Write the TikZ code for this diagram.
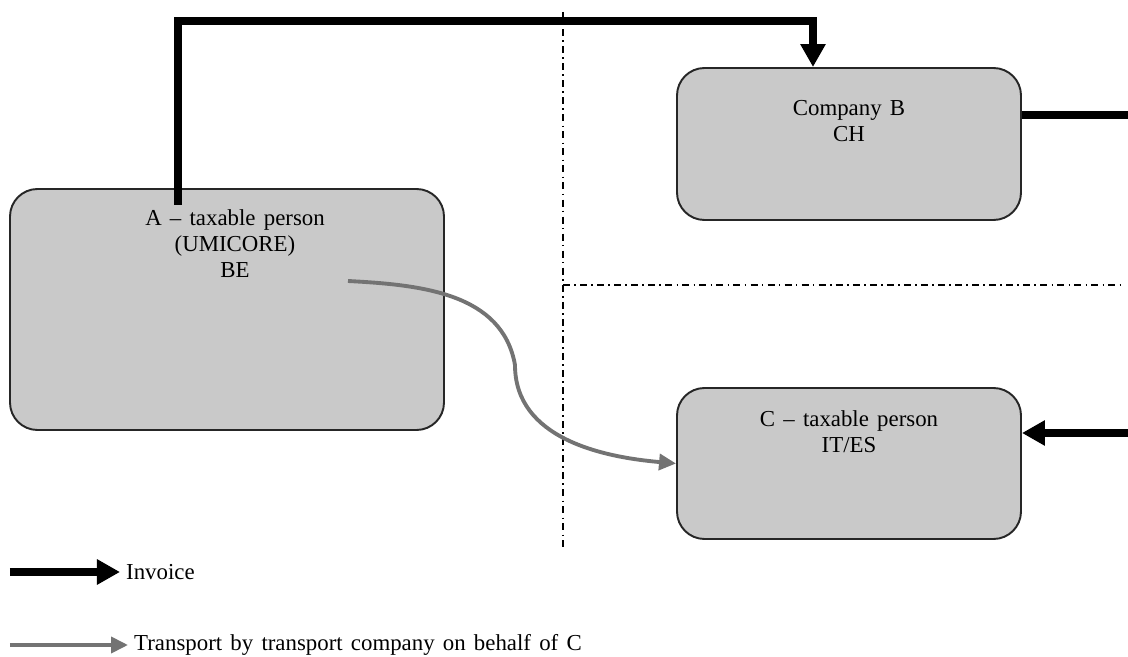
\documentclass[tikz,border=0pt]{standalone}
\usepackage{fontspec}
\setmainfont{Liberation Serif}
\usetikzlibrary{arrows.meta,positioning}
\newcommand\partyfont{\fontsize{13}{14.8}\selectfont\spaceskip 0.36em plus 0.1em\relax}
\tikzset{
  party/.style={draw=black!85, line width=1.1pt, fill=black!21, rounded corners=0.55cm},
  lbl/.style={align=center, font=\partyfont},
  invoice/.style={line width=4.4pt, -{Triangle[length=0.46cm,width=0.48cm]}},
  transport/.style={line width=2.2pt, black!55, -{Triangle[length=0.34cm,width=0.32cm]}},
  border/.style={line width=1.3pt, dash pattern=on 4pt off 2.4pt on 0.9pt off 2.4pt}
}
\begin{document}
\begin{tikzpicture}
\useasboundingbox (0,0) rectangle (22.56,-13.14);
% the three parties
\node[party, minimum width=8.68cm, minimum height=4.82cm] (a) at (4.54,-6.19) {};
\node[party, minimum width=6.88cm, minimum height=3.04cm] (b) at (16.98,-2.88) {};
\node[party, minimum width=6.88cm, minimum height=3.02cm] (c) at (16.98,-9.27) {};
\node[lbl, below=0.3cm of a.north, xshift=0.16cm] (atext) {A -- taxable person\\(UMICORE)\\BE};
\node[lbl, below=0.55cm of b.north] (btext) {Company B\\CH};
\node[lbl, below=0.35cm of c.north] (ctext) {C -- taxable person\\IT/ES};
% borders
\coordinate (vtop) at (11.26,-0.24);
\coordinate (vbot) at (11.26,-11.0);
\coordinate (corner) at (11.26,-5.7);
\coordinate (hend) at (22.4,-5.7);
\draw[border] (vtop) -- (vbot);
\draw[border] (corner) -- (hend);
% invoices
\coordinate (astart) at (3.56,-4.1);
\coordinate (topleft) at (3.56,-0.42);
\coordinate (bin) at ([xshift=-0.72cm]b.north);
\draw[invoice] (astart) -- (topleft) -| (bin);
\coordinate (bout) at (22.56,-2.3);
\draw[line width=4.4pt] (b.east |- bout) -- (bout);
\coordinate (cin) at (22.56,-8.66);
\draw[invoice] (cin) -- (c.east |- cin);
% transport
\coordinate (tstart) at (6.96,-5.62);
\coordinate (tmid) at (10.3,-7.3);
\draw[transport] (tstart) to[out=-3,in=100] (tmid) to[out=-90,in=175] (c.west);
% legend
\node[lbl, anchor=west] (inv) at (2.4,-11.44) {Invoice};
\coordinate (l1) at (0.2,-11.44);
\draw[invoice] (l1) -- (inv.west);
\node[lbl, anchor=west] (trans) at (2.56,-12.9) {Transport by transport company on behalf of C};
\coordinate (l2) at (0.2,-12.9);
\draw[transport] (l2) -- (trans.west);
\end{tikzpicture}
\end{document}
